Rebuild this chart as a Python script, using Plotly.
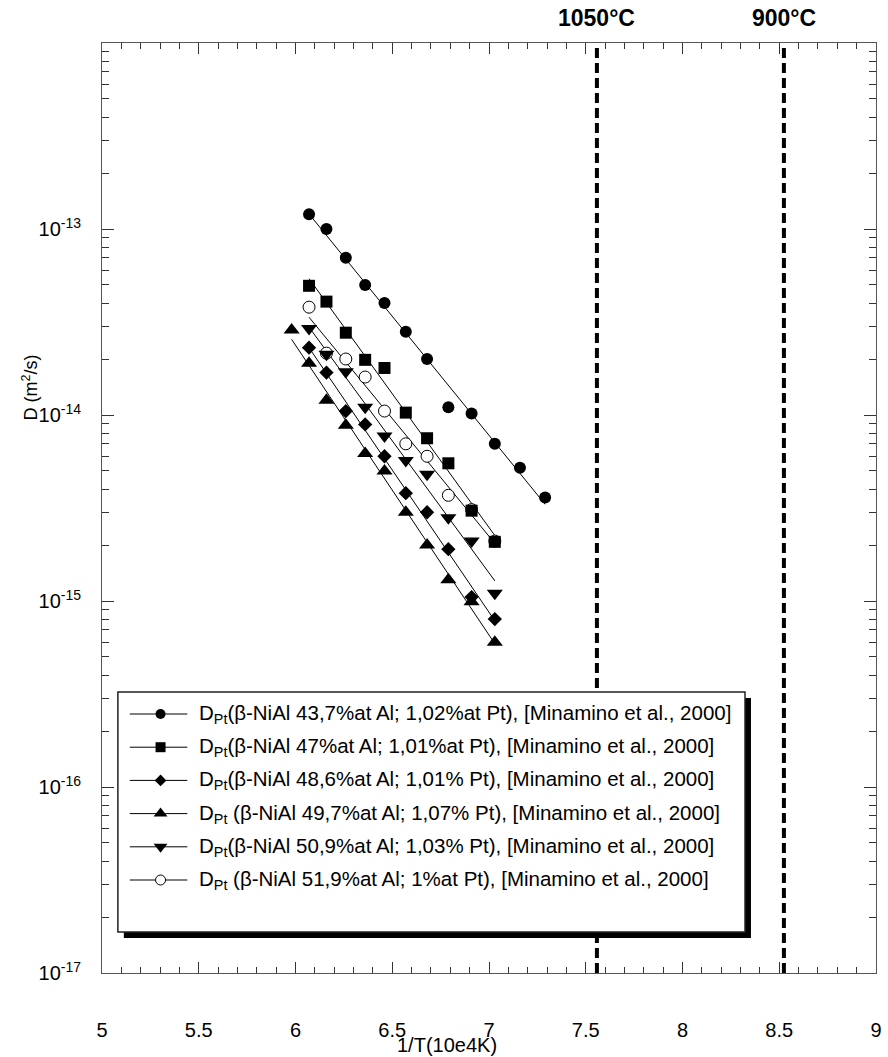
import numpy as np
import plotly.graph_objects as go

# Pt diffusion coefficients in beta-NiAl: 1/T (10^4 K^-1) vs D_Pt (m^2/s)
x_437 = [6.07, 6.16, 6.26, 6.36, 6.46, 6.57, 6.68, 6.79, 6.91, 7.03, 7.16, 7.29]
d_437 = [1.2e-13, 1.0e-13, 7.0e-14, 5.0e-14, 4.0e-14, 2.8e-14, 2.0e-14, 1.1e-14,
         1.02e-14, 7.0e-15, 5.2e-15, 3.6e-15]

x_470 = [6.07, 6.16, 6.26, 6.36, 6.46, 6.57, 6.68, 6.79, 6.91, 7.03]
d_470 = [4.95e-14, 4.07e-14, 2.77e-14, 1.98e-14, 1.79e-14, 1.03e-14, 7.5e-15,
         5.5e-15, 3.06e-15, 2.08e-15]

x_486 = [6.07, 6.16, 6.26, 6.36, 6.46, 6.57, 6.68, 6.79, 6.91, 7.03]
d_486 = [2.30e-14, 1.69e-14, 1.05e-14, 8.9e-15, 6.0e-15, 3.8e-15, 3.0e-15,
         1.9e-15, 1.05e-15, 8.0e-16]

x_497 = [5.98, 6.07, 6.16, 6.26, 6.36, 6.46, 6.57, 6.68, 6.79, 6.91, 7.03]
d_497 = [2.86e-14, 1.90e-14, 1.20e-14, 8.8e-15, 6.2e-15, 5.0e-15, 3.0e-15,
         2.0e-15, 1.3e-15, 9.9e-16, 6.0e-16]

x_509 = [6.07, 6.16, 6.26, 6.36, 6.46, 6.57, 6.68, 6.79, 6.91, 7.03]
d_509 = [2.92e-14, 2.12e-14, 1.71e-14, 1.10e-14, 7.7e-15, 5.7e-15, 4.8e-15,
         2.8e-15, 2.1e-15, 1.1e-15]

x_519 = [6.07, 6.16, 6.26, 6.36, 6.46, 6.57, 6.68, 6.79, 6.91, 7.03]
d_519 = [3.8e-14, 2.15e-14, 2.0e-14, 1.6e-14, 1.05e-14, 7.0e-15, 6.0e-15, 3.7e-15,
         3.1e-15, 2.1e-15]

labels = [
    "D<sub>Pt</sub>(β-NiAl 43,7%at Al; 1,02%at Pt), [Minamino et al., 2000]",
    "D<sub>Pt</sub>(β-NiAl 47%at Al; 1,01%at Pt), [Minamino et al., 2000]",
    "D<sub>Pt</sub>(β-NiAl 48,6%at Al; 1,01% Pt), [Minamino et al., 2000]",
    "D<sub>Pt</sub> (β-NiAl 49,7%at Al; 1,07% Pt), [Minamino et al., 2000]",
    "D<sub>Pt</sub>(β-NiAl 50,9%at Al; 1,03% Pt), [Minamino et al., 2000]",
    "D<sub>Pt</sub> (β-NiAl 51,9%at Al; 1%at Pt), [Minamino et al., 2000]",
]

# reference temperatures (°C) marked by vertical lines
ref_temps_c = [1050, 900]

series = [
    (x_437, d_437, "circle", "black"),
    (x_470, d_470, "square", "black"),
    (x_486, d_486, "diamond", "black"),
    (x_497, d_497, "triangle-up", "black"),
    (x_509, d_509, "triangle-down", "black"),
    (x_519, d_519, "circle", "white"),
]
marker_size = {"circle": 12, "square": 12, "diamond": 11,
               "triangle-up": 14, "triangle-down": 14}

FONT = "Liberation Sans, Arial, sans-serif"
W, H = 888, 1057
ML, MR, MT, MB = 102, 6, 43, 84
PW, PH = W - ML - MR, H - MT - MB


def px(xp):
    return (xp - ML) / PW


def py(yp):
    return (H - MB - yp) / PH


fig = go.Figure()

# Arrhenius fits (linear in log10 D vs 1/T)
for xs, ds, sym, col in series:
    xa = np.array(xs)
    la = np.log10(np.array(ds))
    k, b = np.polyfit(xa, la, 1)
    xf = np.array([xa.min(), xa.max()])
    fig.add_trace(go.Scatter(x=xf, y=10 ** (k * xf + b), mode="lines",
                             line=dict(color="black", width=1),
                             showlegend=False, hoverinfo="skip"))

# measured points (open circles underneath the filled symbols)
for xs, ds, sym, col in [series[-1]] + series[:-1]:
    fig.add_trace(go.Scatter(
        x=xs, y=ds, mode="markers", showlegend=False,
        marker=dict(symbol=sym, size=marker_size[sym], color=col,
                    line=dict(color="black", width=1 if col == "white" else 0)),
    ))

# vertical temperature lines and their labels
shapes = []
annotations = []
for tc in ref_temps_c:
    xv = 1e4 / (tc + 273.15)
    shapes.append(dict(type="line", xref="x", yref="paper", x0=xv, x1=xv, y0=0, y1=0.995,
                       line=dict(color="black", width=4, dash="10px,5px"), layer="below"))
    annotations.append(dict(x=xv, xref="x", y=py(18), yref="paper", text=f"<b>{tc}°C</b>",
                            showarrow=False, xanchor="center", yanchor="middle",
                            font=dict(family=FONT, size=23, color="black")))

# legend frame with drop shadow
LX0, LY0, LX1, LY1 = 118, 692, 750, 932
SH = 6
shapes.append(dict(type="rect", xref="paper", yref="paper",
                   x0=px(LX0 + SH), x1=px(LX1 + SH), y0=py(LY1 + SH), y1=py(LY0 + SH),
                   fillcolor="black", line=dict(width=0), layer="below"))
shapes.append(dict(type="rect", xref="paper", yref="paper",
                   x0=px(LX0), x1=px(LX1), y0=py(LY1), y1=py(LY0),
                   fillcolor="white", line=dict(color="#222", width=1.5), layer="below"))

row_y0, row_dy = 714, 33.2
for i, (xs, ds, sym, col) in enumerate(series):
    ry = row_y0 + i * row_dy
    shapes.append(dict(type="line", xref="paper", yref="paper",
                       x0=px(130), x1=px(188), y0=py(ry), y1=py(ry),
                       line=dict(color="black", width=1), layer="below"))
    fig.add_trace(go.Scatter(
        x=[px(161)], y=[py(ry)], xaxis="x2", yaxis="y2", mode="markers",
        showlegend=False, hoverinfo="skip",
        marker=dict(symbol=sym, size=marker_size[sym] - 2, color=col,
                    line=dict(color="black", width=1 if col == "white" else 0)),
    ))
    annotations.append(dict(x=px(198), y=py(ry), xref="paper", yref="paper",
                            text=labels[i], showarrow=False, xanchor="left",
                            yanchor="middle",
                            font=dict(family=FONT, size=20.5, color="black")))

# axis titles
annotations.append(dict(x=px(450), y=py(1045), xref="paper", yref="paper",
                        text="1/T(10e4K)", showarrow=False, xanchor="center",
                        yanchor="middle", font=dict(family=FONT, size=20, color="black")))
annotations.append(dict(x=px(29), y=py(388), xref="paper", yref="paper",
                        text="D (m<sup>2</sup>/s)", textangle=-90, showarrow=False,
                        xanchor="center", yanchor="middle",
                        font=dict(family=FONT, size=18, color="black")))

decades = list(range(-17, -12))
major_vals = [10.0 ** e for e in decades]
major_text = [f"10<sup>{e}</sup>" for e in decades]
minor_vals = [m * 10.0 ** e for e in range(-17, -12) for m in range(2, 10)]

fig.update_layout(
    width=W, height=H,
    margin=dict(l=ML, r=MR, t=MT, b=MB),
    paper_bgcolor="white", plot_bgcolor="white",
    showlegend=False,
    shapes=shapes, annotations=annotations,
    font=dict(family=FONT, color="black"),
    xaxis=dict(range=[5, 9], tick0=5, dtick=0.5, ticks="inside", ticklen=11,
               tickwidth=1, tickcolor="#333", showline=True, linecolor="#555",
               linewidth=1, mirror="ticks", showgrid=False, zeroline=False,
               ticklabelstandoff=39,
               minor=dict(tick0=5, dtick=0.1, ticks="inside", ticklen=6,
                          tickwidth=1, tickcolor="#333"),
               tickfont=dict(family=FONT, size=20, color="black")),
    yaxis=dict(type="log", range=[-17, -12], tickmode="array", tickvals=major_vals,
               ticktext=major_text, ticks="inside", ticklen=12, tickwidth=1,
               tickcolor="#333", showline=True, linecolor="#555", linewidth=1,
               mirror="ticks", showgrid=False, zeroline=False,
               ticklabelstandoff=16,
               minor=dict(tickmode="array", tickvals=minor_vals, ticks="inside",
                          ticklen=7, tickwidth=1, tickcolor="#333"),
               tickfont=dict(family=FONT, size=20, color="black")),
    xaxis2=dict(domain=[0, 1], range=[0, 1], overlaying="x", anchor="y2",
                visible=False, fixedrange=True),
    yaxis2=dict(domain=[0, 1], range=[0, 1], overlaying="y", anchor="x2",
                visible=False, fixedrange=True),
)

fig.write_html("out.html")
